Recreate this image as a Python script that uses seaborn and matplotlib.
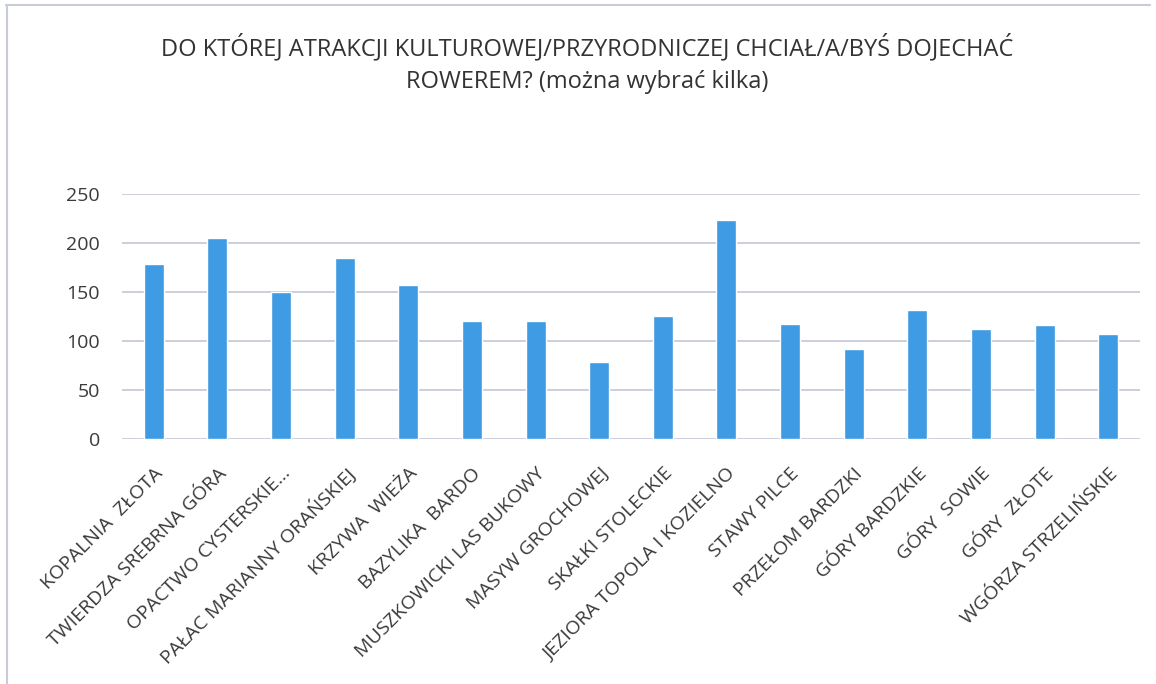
import matplotlib
matplotlib.use("Agg")
import matplotlib.pyplot as plt
import seaborn as sns
import pandas as pd

categories = [
    "KOPALNIA  ZŁOTA", "TWIERDZA SREBRNA GÓRA", "OPACTWO CYSTERSKIE…",
    "PAŁAC MARIANNY ORAŃSKIEJ", "KRZYWA  WIEŻA", "BAZYLIKA  BARDO",
    "MUSZKOWICKI LAS BUKOWY", "MASYW GROCHOWEJ", "SKAŁKI STOLECKIE",
    "JEZIORA TOPOLA I KOZIELNO", "STAWY PILCE", "PRZEŁOM BARDZKI",
    "GÓRY BARDZKIE", "GÓRY  SOWIE", "GÓRY  ZŁOTE", "WGÓRZA STRZELIŃSKIE",
]
values = [179, 205, 150, 185, 157, 121, 121, 79, 126, 224, 118, 92, 132, 112, 116, 107]
yticks = [0, 50, 100, 150, 200, 250]
title_line1 = "DO KTÓREJ ATRAKCJI KULTUROWEJ/PRZYRODNICZEJ CHCIAŁ/A/BYŚ DOJECHAĆ"
title_line2 = "ROWEREM? (można wybrać kilka)"

sns.set_theme(style="white")
plt.rcParams['font.family'] = ['Open Sans', 'DejaVu Sans']

df = pd.DataFrame({"cat": categories, "val": values})

W, H = 1156, 684
fig = plt.figure(figsize=(W / 100, H / 100), dpi=100)
left, right, top, bottom = 122, 1140, 194, 439.3
ax = fig.add_axes([left / W, 1 - bottom / H, (right - left) / W, (bottom - top) / H])
sns.barplot(data=df, x="cat", y="val", color="#3f9be3", width=0.315, saturation=1, ax=ax, zorder=3)

ax.set_ylim(0, 250)
ax.set_xlim(-0.5, len(categories) - 0.5)
ax.set_yticks(yticks)
ax.set_yticklabels([str(t) for t in yticks], fontsize=14, color="#3a3a3a")
ax.yaxis.grid(True, color="#c8ccd9", linewidth=1.3, zorder=0)
ax.set_axisbelow(True)
ax.set_xlabel("")
ax.set_ylabel("")
for s in ax.spines.values():
    s.set_visible(False)
ax.tick_params(axis="both", length=0)
ax.tick_params(axis="y", pad=16)
ax.set_xticks(range(len(categories)))
ax.set_xticklabels(categories, rotation=45, ha="right", rotation_mode="anchor",
                   fontsize=14, color="#3a3a3a")
ax.tick_params(axis="x", pad=18)

fig.text(587.5 / W, 1 - 55 / H, title_line1, ha="center", va="baseline",
         fontsize=17, color="#333333")
fig.text(587.5 / W, 1 - 88 / H, title_line2, ha="center", va="baseline",
         fontsize=17, color="#333333")

# light frame lines
fig.add_artist(plt.Line2D([0.005, 0.995], [0.992, 0.992], color="#c8ccd9", lw=1.5))
fig.add_artist(plt.Line2D([0.006, 0.006], [0.0, 0.992], color="#c8ccd9", lw=1.5))

fig.savefig("out.png", dpi=100)
